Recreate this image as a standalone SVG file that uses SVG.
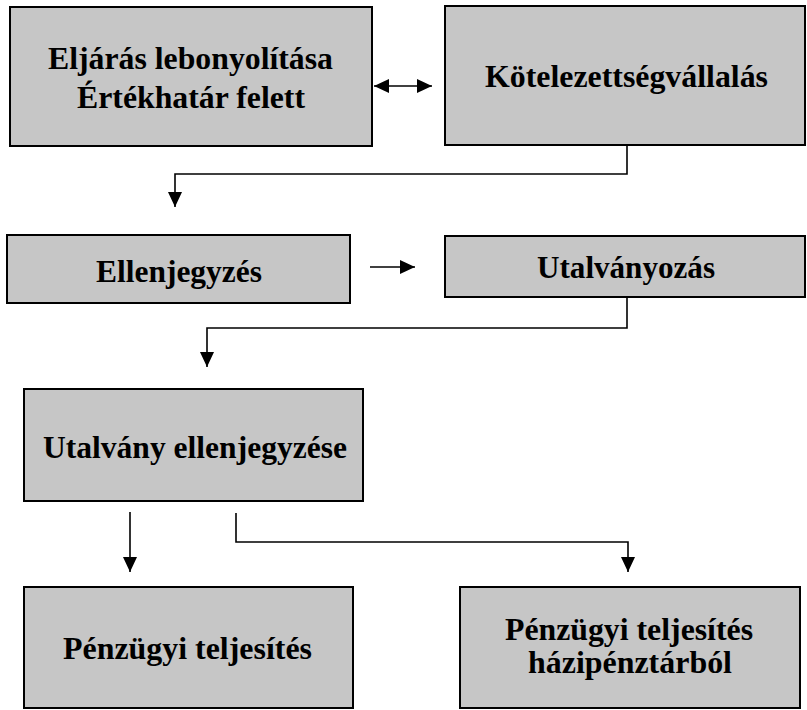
<svg xmlns="http://www.w3.org/2000/svg" width="807" height="710" viewBox="0 0 807 710">
<defs>
<marker id="ah" viewBox="0 0 15 14" refX="15" refY="7" markerWidth="15" markerHeight="14" markerUnits="userSpaceOnUse" orient="auto-start-reverse">
<path d="M0,0 L15,7 L0,14 Z" fill="#000"/>
</marker>
</defs>
<style>
.box{fill:#c6c6c6;stroke:#000;stroke-width:2}
.t{font-family:"Liberation Serif","Times New Roman",serif;font-weight:bold;font-size:31px;fill:#000;text-anchor:middle}
.c{fill:none;stroke:#000;stroke-width:1.6}
</style>
<rect width="807" height="710" fill="#fff"/>
<g id="n1"><rect class="box" x="10" y="7" width="362" height="139"/>
<text class="t" x="190.5" y="69" textLength="285" lengthAdjust="spacingAndGlyphs">Eljárás lebonyolítása</text>
<text class="t" x="191" y="108" textLength="228" lengthAdjust="spacingAndGlyphs">Értékhatár felett</text></g>
<g id="n2"><rect class="box" x="445" y="6" width="360" height="139"/>
<text class="t" x="626.5" y="87" textLength="283" lengthAdjust="spacingAndGlyphs">Kötelezettségvállalás</text></g>
<g id="n3"><rect class="box" x="7" y="235" width="343" height="68"/>
<text class="t" x="179" y="282" textLength="166" lengthAdjust="spacingAndGlyphs">Ellenjegyzés</text></g>
<g id="n4"><rect class="box" x="445" y="236" width="360" height="61"/>
<text class="t" x="626" y="278" textLength="178" lengthAdjust="spacingAndGlyphs">Utalványozás</text></g>
<g id="n5"><rect class="box" x="24" y="389" width="339" height="112"/>
<text class="t" x="195" y="458" textLength="304" lengthAdjust="spacingAndGlyphs">Utalvány ellenjegyzése</text></g>
<g id="n6"><rect class="box" x="24" y="587" width="329" height="121"/>
<text class="t" x="187.5" y="659" textLength="249" lengthAdjust="spacingAndGlyphs">Pénzügyi teljesítés</text></g>
<g id="n7"><rect class="box" x="460" y="587" width="340" height="121"/>
<text class="t" x="629" y="640" textLength="248" lengthAdjust="spacingAndGlyphs">Pénzügyi teljesítés</text>
<text class="t" x="630" y="673" textLength="204" lengthAdjust="spacingAndGlyphs">házipénztárból</text></g>
<g id="connectors">
<line class="c" x1="374" y1="86" x2="432" y2="86" marker-start="url(#ah)" marker-end="url(#ah)"/>
<polyline class="c" points="627,146 627,174 175,174 175,207" marker-end="url(#ah)"/>
<line class="c" x1="370" y1="267" x2="415" y2="267" marker-end="url(#ah)"/>
<polyline class="c" points="627,298 627,328 207,328 207,367" marker-end="url(#ah)"/>
<line class="c" x1="130" y1="512" x2="130" y2="572" marker-end="url(#ah)"/>
<polyline class="c" points="236,513 236,542 628,542 628,572" marker-end="url(#ah)"/>
</g>
</svg>
